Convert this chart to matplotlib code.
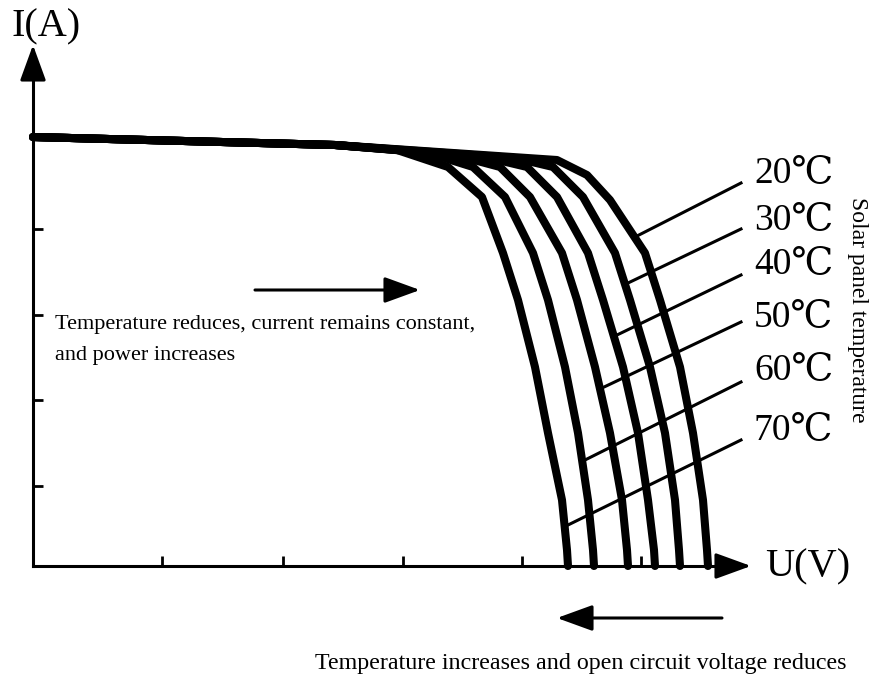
import matplotlib
matplotlib.use("Agg")
import matplotlib.pyplot as plt

# I-U curves of a solar panel at six temperatures (schematic units)
temps = ['20℃', '30℃', '40℃', '50℃', '60℃', '70℃']
shared_u = [0.0, 30.2]
shared_i = [42.9, 42.1]
curve_u = {
    '20℃': [52.4, 55.4, 57.7, 61.2, 62.7, 64.7, 66.0, 67.0, 67.4, 67.5],
    '30℃': [48.2, 52.0, 55.0, 58.2, 59.7, 61.7, 63.2, 64.2, 64.6, 64.7],
    '40℃': [45.2, 49.4, 52.4, 55.5, 57.0, 59.0, 60.5, 61.5, 62.1, 62.2],
    '50℃': [42.2, 46.7, 49.7, 52.9, 54.4, 56.2, 57.7, 58.9, 59.4, 59.5],
    '60℃': [39.2, 44.0, 47.2, 50.0, 51.5, 53.2, 54.5, 55.5, 56.0, 56.1],
    '70℃': [36.4, 41.5, 44.9, 47.0, 48.5, 50.2, 51.5, 52.9, 53.4, 53.5],
}
curve_i = {
    '20℃': [40.6, 39.1, 36.6, 31.3, 26.6, 19.9, 13.3, 6.6, 1.6, 0.0],
    '30℃': [40.8, 39.9, 36.9, 31.3, 26.6, 19.9, 13.3, 6.6, 1.6, 0.0],
    '40℃': [40.9, 39.9, 36.9, 31.3, 26.6, 19.9, 13.3, 6.6, 1.6, 0.0],
    '50℃': [41.1, 39.9, 36.9, 31.3, 26.6, 19.9, 13.3, 6.6, 1.6, 0.0],
    '60℃': [41.4, 39.9, 36.9, 31.3, 26.6, 19.9, 13.3, 6.6, 1.6, 0.0],
    '70℃': [41.6, 39.9, 36.9, 31.3, 26.6, 19.9, 13.3, 6.6, 1.6, 0.0],
}
# where each leader line touches its curve
touch_u = [60.4, 59.5, 58.4, 56.9, 55.2, 53.5]
touch_i = [33.0, 28.3, 23.1, 17.8, 10.6, 4.1]
x_ticks = [12.9, 25.0, 37.0, 48.9, 60.8]
y_ticks = [8.0, 16.6, 25.1, 33.7]

serif = ['Liberation Serif', 'DejaVu Serif', 'Noto Sans CJK SC']

fig = plt.figure(figsize=(8.7, 6.77), dpi=100)
ax = fig.add_axes([0, 0, 1, 1])
ax.set_xlim(-3.3, 83.7)
ax.set_ylim(-11.1, 56.6)

for t in temps:
    u = shared_u + curve_u[t]
    i = shared_i + curve_i[t]
    ax.plot(u, i, color='black', lw=5.8, solid_capstyle='round',
            solid_joinstyle='round', zorder=3)

# leader lines + labels
label_y = [39.3, 34.6, 30.2, 24.9, 19.6, 13.6]
line_y = [38.3, 33.7, 29.1, 24.4, 18.4, 12.6]
for k, t in enumerate(temps):
    ax.plot([touch_u[k], 70.8], [touch_i[k], line_y[k]], color='black', lw=2.2, zorder=2)
    ax.text(72.1, label_y[k], t, fontsize=27, family=serif, va='center', ha='left')

# axes
for s in ['top', 'right']:
    ax.spines[s].set_visible(False)
ax.spines['left'].set_position(('data', 0))
ax.spines['bottom'].set_position(('data', 0))
ax.spines['left'].set_bounds(0, 50)
ax.spines['bottom'].set_bounds(0, 70)
ax.spines['left'].set_linewidth(2.2)
ax.spines['bottom'].set_linewidth(2.2)
ax.set_xticks(x_ticks)
ax.set_yticks(y_ticks)
ax.tick_params(direction='in', length=7, width=2, labelbottom=False, labelleft=False)

arrow = dict(arrowstyle='-|>,head_length=1.1,head_width=0.4', lw=2.2, color='black',
             mutation_scale=20, shrinkA=0, shrinkB=0)
ax.annotate('', xy=(0, 52.1), xytext=(0, 49), arrowprops=arrow)
ax.annotate('', xy=(71.8, 0), xytext=(69, 0), arrowprops=arrow)

ax.text(-2.1, 53.9, 'I(A)', fontsize=29, family=serif, va='center', ha='left')
ax.text(73.2, -0.1, 'U(V)', fontsize=29, family=serif, va='center', ha='left')

# annotations
ax.annotate('', xy=(38.7, 27.6), xytext=(22.2, 27.6), arrowprops=arrow)
ax.text(2.2, 22.6, 'Temperature reduces, current remains constant,\nand power increases',
        fontsize=16, family=serif, va='center', ha='left', linespacing=1.8)
ax.annotate('', xy=(52.4, -5.2), xytext=(68.9, -5.2), arrowprops=arrow)
ax.text(28.2, -9.7, 'Temperature increases and open circuit voltage reduces',
        fontsize=17.3, family=serif, va='center', ha='left')
ax.text(82.5, 25.6, 'Solar panel temperature', fontsize=17, family=serif,
        va='center', ha='center', rotation=-90)

fig.savefig('out.png', dpi=100)
